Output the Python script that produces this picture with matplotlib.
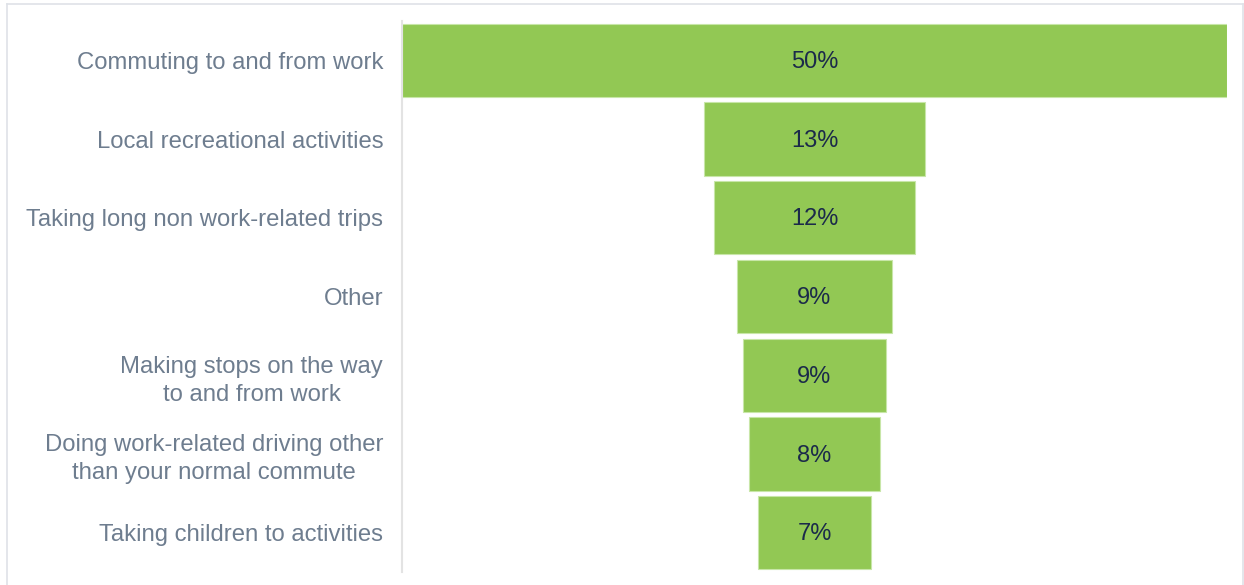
import numpy as np
import matplotlib.pyplot as plt
from matplotlib.lines import Line2D

plt.rcParams['font.family'] = ['Liberation Sans', 'DejaVu Sans']

categories = [
    "Commuting to and from work",
    "Local recreational activities",
    "Taking long non work-related trips",
    "Other",
    "Making stops on the way\nto and from work",
    "Doing work-related driving other\nthan your normal commute",
    "Taking children to activities",
]
shares = [50.0, 13.4, 12.2, 9.4, 8.7, 7.9, 6.8]

bar_color = '#92c854'
label_color = '#6e7d8f'
value_color = '#1b2a4a'

fig = plt.figure(figsize=(12.44, 5.85), dpi=100)
ax = fig.add_axes([402 / 1244, 1 - 572 / 585, 825 / 1244, 551 / 585])

y = np.arange(len(categories))
w = np.array(shares)
# funnel: each bar centred on zero
ax.barh(y, w, left=-w / 2, height=0.93, color=bar_color,
        edgecolor='#c8e6a8', linewidth=0.8)

for yi, v in zip(y, shares):
    ax.text(0, yi + 0.02, f"{v:.0f}%", ha='center', va='center',
            fontsize=17, color=value_color)

ax.set_xlim(-25, 25)
ax.set_ylim(len(categories) - 0.5, -0.5)
ax.set_yticks(y)
ax.set_yticklabels(categories, fontsize=17.2, color=label_color,
                   multialignment='center', linespacing=1.35)
ax.tick_params(axis='y', length=0, pad=13.5)
ax.set_xticks([])
for s in ['top', 'right', 'bottom']:
    ax.spines[s].set_visible(False)
ax.spines['left'].set_color('#e3e3e3')
ax.spines['left'].set_linewidth(1.5)

# light frame around the figure
frame = dict(color='#dfe2e8', linewidth=1.2, transform=fig.transFigure)
fig.add_artist(Line2D([7 / 1244, 1243 / 1244], [1 - 4 / 585, 1 - 4 / 585], **frame))
fig.add_artist(Line2D([7 / 1244, 7 / 1244], [0, 1 - 4 / 585], **frame))
fig.add_artist(Line2D([1243 / 1244, 1243 / 1244], [0, 1 - 4 / 585], **frame))

fig.savefig('out.png', dpi=100)
